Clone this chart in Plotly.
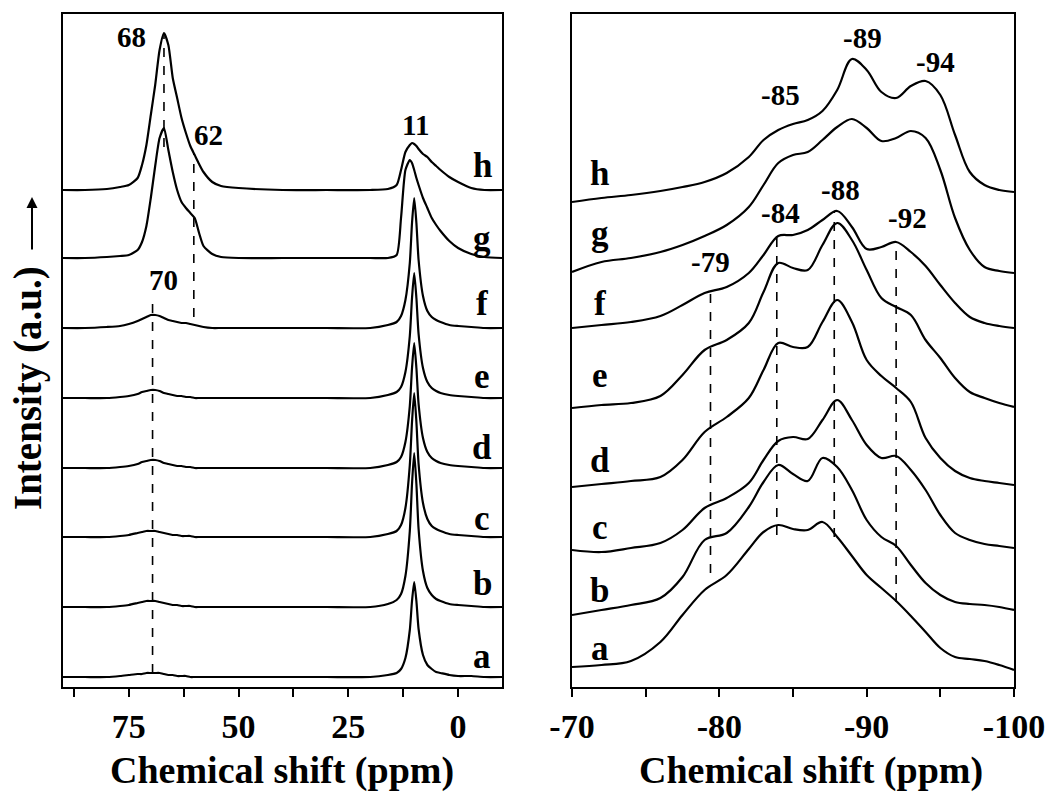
import plotly.graph_objects as go

# ---------------- data ----------------
labels = ["a", "b", "c", "d", "e", "f", "g", "h"]

# Left panel: 13C spectra, chemical shift grid (ppm)
c13_ppm = [90, 85, 80, 77, 75, 73, 72, 71, 70, 69, 68, 67, 66, 65, 64, 63, 62, 61, 60, 59,
           58, 56, 54, 50, 40, 30, 20, 16, 14, 13, 12, 11, 10.5, 10, 9.5, 9, 8, 7, 6, 5,
           4, 2, 0, -3, -6, -10]
c13_a = [0, 0, 0, 1, 2, 3, 3, 4, 4, 4, 4, 3, 2, 2, 1, 1, 1, 0, 0, 0,
         0, 0, 0, 0, 0, 0, 0, 2, 4, 8, 19, 47, 76, 95, 76, 48, 22, 12, 8, 5,
         4, 2, 1, 1, 0, 0]
c13_b = [0, 0, 0, 1, 2, 4, 5, 6, 6, 6, 5, 4, 3, 2, 2, 1, 1, 1, 0, 0,
         0, 0, 0, 0, 0, 0, 0, 3, 7, 13, 31, 76, 123, 154, 123, 78, 36, 19, 12, 8,
         6, 3, 2, 1, 0, 0]
c13_c = [0, 0, 0, 1, 2, 4, 5, 6, 6, 6, 5, 4, 3, 2, 2, 1, 1, 1, 0, 0,
         0, 0, 0, 0, 0, 0, 0, 3, 6, 12, 29, 72, 115, 144, 115, 73, 34, 18, 11, 8,
         6, 3, 2, 1, 0, 0]
c13_d = [0, 0, 0, 1, 2, 4, 6, 7, 8, 8, 7, 5, 4, 3, 2, 2, 1, 1, 0, 0,
         0, 0, 0, 0, 0, 0, 0, 3, 6, 11, 26, 62, 100, 125, 100, 64, 30, 16, 10, 7,
         5, 3, 2, 1, 0, 0]
c13_e = [0, 0, 0, 1, 2, 4, 6, 7, 8, 8, 7, 5, 4, 3, 2, 2, 1, 1, 0, 0,
         0, 0, 0, 0, 0, 0, 0, 3, 6, 11, 26, 62, 100, 125, 100, 64, 30, 16, 10, 7,
         5, 3, 2, 1, 0, 0]
c13_f = [0, 0, 1, 2, 4, 7, 9, 11, 13, 13, 12, 10, 8, 7, 6, 5, 5, 4, 3, 2,
         1, 0, 0, 0, 0, 0, 0, 3, 6, 12, 28, 65, 105, 130, 105, 68, 32, 17, 11, 8,
         6, 3, 2, 1, 0, 0]
c13_g = [0, 0, 1, 2, 3, 8, 16, 32, 60, 92, 120, 130, 108, 86, 68, 56, 50, 45, 40, 25,
         12, 4, 1, 0, 0, 0, 0, 0, 3, 40, 88, 98, 95, 88, 80, 73, 60, 50, 40, 33,
         27, 17, 10, 4, 1, 0]
c13_h = [0, 0, 1, 3, 5, 12, 25, 45, 75, 105, 140, 157, 145, 112, 92, 72, 57, 44, 35, 26,
         18, 8, 4, 2, 0, 0, 0, 1, 5, 20, 38, 45, 47, 46, 44, 41, 36, 33, 28, 24,
         20, 13, 8, 2, 0, 0]
c13_offsets = [10, 80, 150, 219, 289, 359, 429, 497]

# Right panel: 29Si spectra
si_ppm = [-70, -72, -74, -76, -77.5, -79, -80.5, -82, -83, -84, -85, -86, -87, -88, -89,
          -90, -91, -92, -93, -94, -95, -96, -97, -98, -99, -100]
si_a = [0, 2, 6, 25, 52, 77, 92, 118, 135, 142, 138, 137, 145, 130, 111, 92, 79, 66, 51, 35, 19, 10, 8, 6, 2, -3]
si_b = [0, 5, 10, 17, 38, 75, 82, 108, 133, 150, 141, 134, 157, 148, 125, 95, 78, 69, 50, 32, 20, 13, 11, 10, 8, 5]
si_c = [0, -2, 2, 7, 20, 42, 52, 67, 90, 109, 113, 111, 130, 150, 130, 105, 92, 94, 80, 60, 35, 17, 10, 6, 4, 2]
si_d = [0, 3, 6, 10, 27, 55, 70, 89, 117, 144, 140, 140, 165, 187, 165, 127, 111, 99, 85, 49, 29, 16, 9, 6, 4, 2]
si_e = [0, 3, 5, 12, 33, 58, 68, 85, 116, 145, 140, 138, 163, 185, 168, 138, 110, 101, 93, 68, 50, 30, 16, 10, 5, 1]
si_f = [0, 3, 6, 12, 23, 35, 41, 55, 73, 92, 93, 98, 108, 117, 101, 79, 81, 86, 76, 62, 43, 25, 11, 5, 2, 0]
si_g = [0, 10, 14, 20, 27, 36, 47, 65, 87, 109, 117, 120, 132, 145, 153, 144, 131, 134, 141, 134, 102, 54, 22, 5, 1, -1]
si_h = [0, 4, 7, 11, 15, 20, 29, 45, 62, 72, 78, 82, 91, 112, 143, 132, 110, 104, 116, 121, 107, 67, 30, 17, 12, 10]
si_offsets = [20, 72, 137, 200, 279, 359, 415, 485]

# Tick labels
c13_ticks = [75, 50, 25, 0]
c13_minor = [87.5, 62.5, 37.5, 12.5]
si_ticks = [-70, -80, -90, -100]
si_tick_text = ["-70", "-80", "-90", "-100"]
si_minor = [-75, -85, -95]

# Peak labels: (text, ppm)
c13_peaks = [("68", 67.0), ("62", 60.2), ("70", 69.6), ("11", 9.8)]
si_peaks = [("-79", -79.4), ("-84", -83.9), ("-88", -87.8), ("-92", -92.0),
            ("-85", -85.0), ("-89", -89.3), ("-94", -93.8)]

# ---------------- figure ----------------
W, H = 1055, 794
FONT = "Liberation Serif, Times New Roman, serif"
c13_series = [c13_a, c13_b, c13_c, c13_d, c13_e, c13_f, c13_g, c13_h]
si_series = [si_a, si_b, si_c, si_d, si_e, si_f, si_g, si_h]

fig = go.Figure()
for i, lab in enumerate(labels):
    fig.add_trace(go.Scatter(x=c13_ppm, y=[c13_offsets[i] + v for v in c13_series[i]],
                             mode="lines",
                             line=dict(color="black", width=2.2, shape="spline", smoothing=0.6),
                             xaxis="x", yaxis="y", showlegend=False, hoverinfo="skip", name=lab))
    fig.add_trace(go.Scatter(x=si_ppm, y=[si_offsets[i] + v for v in si_series[i]],
                             mode="lines",
                             line=dict(color="black", width=2.2, shape="spline", smoothing=1.0),
                             xaxis="x2", yaxis="y2", showlegend=False, hoverinfo="skip", name=lab))


def px_x(p):
    return p / W


def px_y(p):
    return 1 - p / H


shapes = []
dash = dict(color="black", width=1.6, dash="dash")
# dashed guides (x in ppm, vertical extent in intensity units)
for x0, y0, y1 in [(67, 540, 654), (60.2, 370, 534), (69.6, 14, 390)]:
    shapes.append(dict(type="line", xref="x", yref="y", x0=x0, x1=x0, y0=y0, y1=y1, line=dash))
for x0, y0, y1 in [(-79.4, 114, 397), (-83.9, 152, 450), (-87.8, 150, 475), (-92.0, 85, 445)]:
    shapes.append(dict(type="line", xref="x2", yref="y2", x0=x0, x1=x0, y0=y0, y1=y1, line=dash))


def bold(s):
    return dict(family=FONT, size=s, color="black", weight="bold")


def text(x, y, t, xref, yref, size, angle=0):
    return dict(x=x, y=y, xref=xref, yref=yref, text=t, showarrow=False, font=bold(size),
                xanchor="center", yanchor="middle", textangle=angle)


ann = []
# peak labels (placed beside their peaks)
c13_lab_pos = {"68": (74.5, 650), "62": (56.8, 552), "70": (67.0, 407), "11": (9.8, 562)}
for t, _ in c13_peaks:
    x, y = c13_lab_pos[t]
    ann.append(text(x, y, t, "x", "y", 29))
si_lab_pos = {"-79": (-79.4, 425), "-84": (-84.15, 474), "-88": (-88.2, 497), "-92": (-92.8, 469),
              "-85": (-84.15, 592), "-89": (-89.7, 649), "-94": (-94.7, 625)}
for t, _ in si_peaks:
    x, y = si_lab_pos[t]
    ann.append(text(x, y, t, "x2", "y2", 29))
# trace letters
for lab, y in zip(labels, [31, 104, 169, 240, 311, 384, 449, 522]):
    ann.append(text(-5.45, y, lab, "x", "y", 35))
for lab, y in zip(labels, [39, 97, 160, 227, 312, 384, 454, 514]):
    ann.append(text(-71.9, y, lab, "x2", "y2", 35))
# axis titles
ann.append(text(px_x(282), px_y(770), "Chemical shift (ppm)", "paper", "paper", 38))
ann.append(text(px_x(811), px_y(770), "Chemical shift (ppm)", "paper", "paper", 38))
ann.append(text(px_x(28), px_y(388), "Intensity (a.u.)", "paper", "paper", 39, -90))
# arrow after the y title
ann.append(dict(x=px_x(32), y=px_y(197), xref="paper", yref="paper", text="",
                showarrow=True, ax=0, ay=54, axref="pixel", ayref="pixel",
                arrowhead=2, arrowsize=1.1, arrowwidth=2, arrowcolor="black", standoff=0))

xcommon = dict(showline=True, linewidth=2, linecolor="black", mirror=True, ticks="outside",
               ticklen=8, tickwidth=2, tickcolor="black", showgrid=False, zeroline=False,
               tickfont=bold(34), ticklabelstandoff=0, automargin=False)
ycommon = dict(showline=True, linewidth=2, linecolor="black", mirror=True, ticks="",
               showticklabels=False, showgrid=False, zeroline=False, range=[0, 673],
               domain=[px_y(687), px_y(14)], automargin=False)

fig.update_layout(
    width=W, height=H, margin=dict(l=0, r=0, t=0, b=0, autoexpand=False),
    paper_bgcolor="white", plot_bgcolor="white",
    xaxis=dict(domain=[px_x(63), px_x(502)], range=[90, -10], anchor="y",
               tickmode="array", tickvals=c13_ticks, ticktext=[str(v) for v in c13_ticks],
               minor=dict(tickvals=c13_minor, ticks="outside", ticklen=8, tickwidth=2, tickcolor="black"),
               **xcommon),
    yaxis=dict(anchor="x", **ycommon),
    xaxis2=dict(domain=[px_x(572), px_x(1014)], range=[-70, -100], anchor="y2",
                tickmode="array", tickvals=si_ticks, ticktext=si_tick_text,
                minor=dict(tickvals=si_minor, ticks="outside", ticklen=8, tickwidth=2, tickcolor="black"),
                **xcommon),
    yaxis2=dict(anchor="x2", **ycommon),
    shapes=shapes, annotations=ann,
)

fig.write_html("out.html")
